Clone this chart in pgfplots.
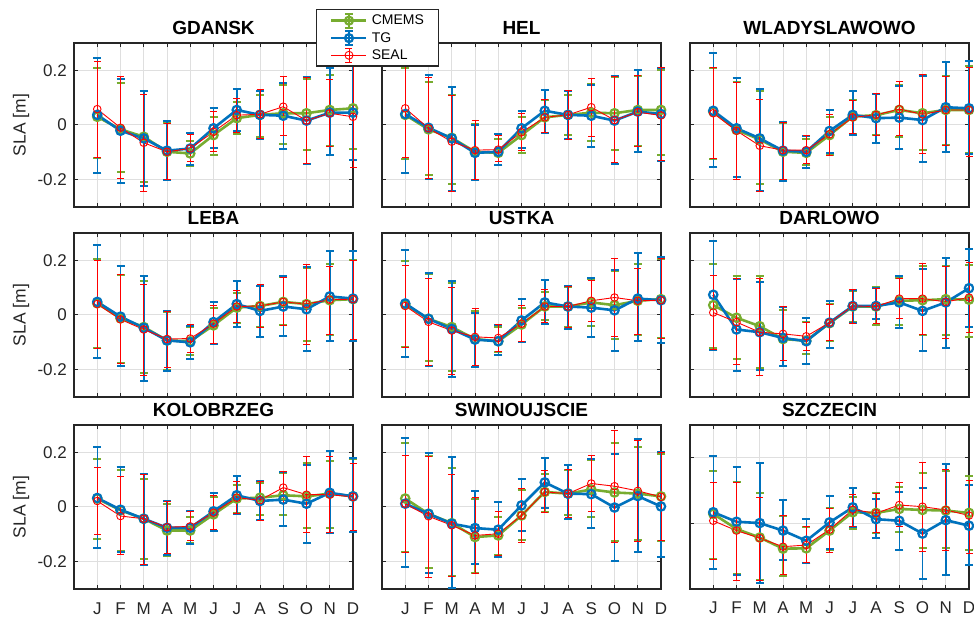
\documentclass[border=0pt]{standalone}
\usepackage{fontspec}
\setmainfont{Liberation Sans}
\usepackage{pgfplots}
\pgfplotsset{compat=1.18}
\usepackage{pgfplotstable}
\definecolor{cmg}{RGB}{119,172,48}
\definecolor{tgb}{RGB}{0,114,189}
\definecolor{axc}{RGB}{38,38,38}
\definecolor{grd}{RGB}{223,223,223}

% columns: month, CMEMS (value, low, high), TG (value, low, high), SEAL (value, low, high)
\pgfplotstableread{
m cy clo chi ty tlo thi sy slo shi
1 0.030 -0.120 0.210 0.037 -0.174 0.245 0.058 -0.117 0.233
2 -0.016 -0.172 0.153 -0.021 -0.212 0.169 -0.010 -0.194 0.178
3 -0.043 -0.209 0.123 -0.049 -0.225 0.126 -0.065 -0.243 0.110
4 -0.098 -0.200 0.006 -0.094 -0.200 0.016 -0.098 -0.200 0.004
5 -0.104 -0.150 -0.060 -0.086 -0.147 -0.030 -0.086 -0.133 -0.034
6 -0.037 -0.110 0.030 -0.012 -0.083 0.061 -0.025 -0.098 0.050
7 0.025 -0.033 0.083 0.055 -0.022 0.131 0.036 -0.027 0.097
8 0.037 -0.043 0.110 0.037 -0.053 0.125 0.039 -0.050 0.131
9 0.043 -0.070 0.147 0.034 -0.086 0.153 0.067 -0.040 0.178
10 0.043 -0.090 0.170 0.016 -0.141 0.174 0.016 -0.141 0.174
11 0.055 -0.076 0.184 0.045 -0.110 0.210 0.043 -0.080 0.168
12 0.061 -0.088 0.215 0.045 -0.129 0.230 0.030 -0.156 0.220
}\gdansk
\pgfplotstableread{
m cy clo chi ty tlo thi sy slo shi
1 0.037 -0.126 0.210 0.040 -0.174 0.250 0.061 -0.117 0.230
2 -0.016 -0.184 0.157 -0.010 -0.196 0.183 -0.012 -0.196 0.173
3 -0.047 -0.215 0.110 -0.049 -0.242 0.139 -0.061 -0.242 0.108
4 -0.098 -0.200 0.002 -0.102 -0.200 0.000 -0.092 -0.200 0.016
5 -0.102 -0.147 -0.050 -0.098 -0.147 -0.033 -0.090 -0.135 -0.040
6 -0.037 -0.104 0.028 -0.012 -0.083 0.053 -0.027 -0.092 0.043
7 0.028 -0.028 0.090 0.052 -0.031 0.129 0.028 -0.028 0.092
8 0.037 -0.037 0.110 0.037 -0.053 0.126 0.037 -0.053 0.126
9 0.045 -0.060 0.150 0.034 -0.080 0.147 0.065 -0.043 0.170
10 0.043 -0.092 0.175 0.016 -0.141 0.180 0.018 -0.138 0.178
11 0.055 -0.076 0.180 0.049 -0.100 0.200 0.047 -0.077 0.180
12 0.055 -0.110 0.200 0.040 -0.130 0.210 0.035 -0.130 0.210
}\hel
\pgfplotstableread{
m cy clo chi ty tlo thi sy slo shi
1 0.049 -0.126 0.209 0.052 -0.153 0.264 0.043 -0.123 0.209
2 -0.018 -0.190 0.156 -0.012 -0.190 0.173 -0.021 -0.199 0.156
3 -0.053 -0.217 0.126 -0.049 -0.240 0.131 -0.076 -0.243 0.092
4 -0.098 -0.200 0.008 -0.094 -0.206 0.012 -0.092 -0.199 0.011
5 -0.102 -0.147 -0.050 -0.098 -0.156 -0.040 -0.092 -0.139 -0.040
6 -0.037 -0.110 0.030 -0.022 -0.104 0.055 -0.034 -0.110 0.037
7 0.031 -0.033 0.090 0.037 -0.037 0.125 0.028 -0.031 0.090
8 0.036 -0.037 0.113 0.025 -0.067 0.114 0.037 -0.040 0.114
9 0.055 -0.043 0.147 0.027 -0.088 0.144 0.058 -0.040 0.160
10 0.043 -0.092 0.184 0.018 -0.135 0.178 0.039 -0.104 0.184
11 0.055 -0.074 0.180 0.065 -0.098 0.231 0.055 -0.074 0.178
12 0.055 -0.104 0.215 0.061 -0.107 0.233 0.055 -0.114 0.209
}\wlad
\pgfplotstableread{
m cy clo chi ty tlo thi sy slo shi
1 0.043 -0.121 0.204 0.048 -0.156 0.256 0.040 -0.121 0.200
2 -0.012 -0.177 0.147 -0.006 -0.186 0.181 -0.016 -0.179 0.147
3 -0.044 -0.211 0.126 -0.047 -0.242 0.144 -0.053 -0.222 0.110
4 -0.093 -0.201 0.010 -0.093 -0.204 0.015 -0.088 -0.193 0.012
5 -0.096 -0.146 -0.045 -0.100 -0.160 -0.041 -0.086 -0.137 -0.035
6 -0.038 -0.105 0.027 -0.026 -0.105 0.049 -0.032 -0.105 0.036
7 0.027 -0.031 0.080 0.040 -0.044 0.126 0.031 -0.028 0.089
8 0.033 -0.044 0.105 0.015 -0.079 0.107 0.033 -0.044 0.110
9 0.048 -0.038 0.138 0.031 -0.078 0.142 0.048 -0.038 0.137
10 0.040 -0.094 0.172 0.021 -0.133 0.175 0.040 -0.109 0.185
11 0.054 -0.072 0.188 0.068 -0.094 0.233 0.056 -0.072 0.178
12 0.058 -0.096 0.200 0.060 -0.096 0.233 0.058 -0.090 0.200
}\leba
\pgfplotstableread{
m cy clo chi ty tlo thi sy slo shi
1 0.038 -0.116 0.196 0.042 -0.152 0.237 0.033 -0.119 0.181
2 -0.014 -0.168 0.150 -0.014 -0.185 0.154 -0.025 -0.185 0.135
3 -0.044 -0.205 0.117 -0.051 -0.228 0.123 -0.057 -0.217 0.100
4 -0.088 -0.191 0.015 -0.090 -0.191 0.009 -0.080 -0.183 0.023
5 -0.096 -0.137 -0.045 -0.096 -0.148 -0.038 -0.084 -0.133 -0.035
6 -0.035 -0.100 0.027 -0.020 -0.100 0.058 -0.032 -0.096 0.036
7 0.031 -0.020 0.083 0.046 -0.032 0.128 0.031 -0.028 0.095
8 0.031 -0.044 0.101 0.031 -0.051 0.107 0.031 -0.044 0.105
9 0.046 -0.041 0.130 0.027 -0.080 0.135 0.052 -0.025 0.126
10 0.036 -0.088 0.160 0.017 -0.130 0.165 0.064 -0.078 0.206
11 0.052 -0.072 0.188 0.060 -0.096 0.225 0.052 -0.072 0.172
12 0.058 -0.084 0.205 0.054 -0.102 0.212 0.054 -0.084 0.206
}\ustka
\pgfplotstableread{
m cy clo chi ty tlo thi sy slo shi
1 0.036 -0.119 0.188 0.074 -0.127 0.272 0.009 -0.127 0.144
2 -0.010 -0.162 0.142 -0.053 -0.205 0.132 -0.026 -0.180 0.132
3 -0.041 -0.195 0.144 -0.063 -0.201 0.122 -0.063 -0.220 0.132
4 -0.088 -0.186 0.020 -0.084 -0.186 0.031 -0.069 -0.168 0.031
5 -0.094 -0.142 -0.026 -0.096 -0.180 -0.010 -0.078 -0.130 -0.026
6 -0.030 -0.094 0.040 -0.028 -0.121 0.052 -0.028 -0.094 0.040
7 0.031 -0.026 0.089 0.033 -0.031 0.093 0.033 -0.031 0.095
8 0.031 -0.038 0.101 0.033 -0.016 0.098 0.031 -0.031 0.098
9 0.052 -0.038 0.137 0.046 -0.047 0.141 0.060 -0.014 0.132
10 0.054 -0.075 0.180 0.015 -0.131 0.167 0.060 -0.072 0.188
11 0.058 -0.072 0.181 0.046 -0.121 0.209 0.048 -0.084 0.179
12 0.056 -0.080 0.184 0.098 -0.044 0.240 0.064 -0.065 0.194
}\darlowo
\pgfplotstableread{
m cy clo chi ty tlo thi sy slo shi
1 0.031 -0.117 0.174 0.033 -0.150 0.218 0.022 -0.100 0.144
2 -0.012 -0.162 0.137 -0.010 -0.166 0.147 -0.033 -0.175 0.113
3 -0.043 -0.190 0.104 -0.043 -0.211 0.120 -0.043 -0.209 0.120
4 -0.086 -0.180 0.012 -0.076 -0.174 0.022 -0.074 -0.169 0.022
5 -0.086 -0.133 -0.037 -0.076 -0.137 -0.016 -0.071 -0.123 -0.016
6 -0.027 -0.088 0.037 -0.016 -0.088 0.053 -0.021 -0.083 0.043
7 0.031 -0.022 0.082 0.043 -0.027 0.113 0.034 -0.025 0.092
8 0.034 -0.028 0.088 0.022 -0.049 0.094 0.025 -0.049 0.094
9 0.043 -0.031 0.123 0.027 -0.071 0.129 0.071 0.012 0.129
10 0.039 -0.076 0.160 0.012 -0.133 0.153 0.045 -0.094 0.184
11 0.049 -0.077 0.168 0.052 -0.094 0.205 0.045 -0.094 0.186
12 0.039 -0.092 0.175 0.039 -0.092 0.180 0.037 -0.086 0.160
}\kolo
\pgfplotstableread{
m cy clo chi ty tlo thi sy slo shi
1 0.031 -0.166 0.233 0.012 -0.221 0.252 0.012 -0.166 0.190
2 -0.025 -0.223 0.186 -0.025 -0.243 0.196 -0.034 -0.258 0.184
3 -0.059 -0.252 0.141 -0.061 -0.298 0.182 -0.067 -0.255 0.120
4 -0.110 -0.243 0.030 -0.077 -0.209 0.059 -0.104 -0.243 0.034
5 -0.104 -0.175 -0.037 -0.083 -0.184 0.018 -0.098 -0.178 -0.015
6 -0.031 -0.120 0.064 0.006 -0.088 0.104 -0.031 -0.131 0.067
7 0.055 -0.019 0.120 0.090 -0.002 0.180 0.055 -0.021 0.133
8 0.049 -0.031 0.135 0.049 -0.043 0.153 0.049 -0.039 0.137
9 0.064 -0.037 0.172 0.047 -0.076 0.174 0.086 -0.016 0.188
10 0.053 -0.123 0.233 -0.002 -0.196 0.194 0.076 -0.129 0.280
11 0.049 -0.120 0.221 0.040 -0.166 0.248 0.059 -0.126 0.245
12 0.039 -0.123 0.195 0.002 -0.184 0.200 0.037 -0.123 0.200
}\swin
\pgfplotstableread{
m cy clo chi ty tlo thi sy slo shi
1 0.029 -0.109 0.160 0.034 -0.140 0.206 0.008 -0.111 0.126
2 -0.017 -0.153 0.126 0.005 -0.158 0.172 -0.022 -0.173 0.126
3 -0.043 -0.173 0.092 0.001 -0.181 0.184 -0.045 -0.173 0.080
4 -0.077 -0.161 0.024 -0.022 -0.112 0.070 -0.071 -0.157 0.024
5 -0.076 -0.122 -0.010 -0.053 -0.122 0.013 -0.066 -0.120 -0.010
6 -0.022 -0.080 0.046 0.003 -0.077 0.083 -0.019 -0.089 0.046
7 0.034 -0.017 0.080 0.049 -0.010 0.107 0.042 -0.010 0.088
8 0.032 -0.028 0.092 0.013 -0.046 0.073 0.031 -0.028 0.090
9 0.044 -0.026 0.112 0.008 -0.081 0.095 0.056 -0.010 0.126
10 0.041 -0.074 0.153 -0.031 -0.171 0.107 0.051 -0.087 0.187
11 0.039 -0.074 0.160 0.010 -0.158 0.180 0.041 -0.084 0.164
12 0.032 -0.082 0.143 -0.007 -0.128 0.116 0.024 -0.092 0.131
}\szcz

\pgfplotsset{
 panel/.style={scale only axis, width=279pt, height=164pt, anchor=north west,
  xmin=0, xmax=12, ymin=-0.3, ymax=0.3,
  xtick={1,...,12}, ytick={-0.2,0,0.2}, xticklabels={}, yticklabels={},
  grid=major, major grid style={grd, line width=1pt},
  tick align=inside, major tick length=4pt,
  tick style={axc, line width=1pt},
  axis line style={axc, line width=1.5pt},
  clip=false,
  title style={font=\bfseries\fontsize{19}{19}\selectfont, at={(axis description cs:0.5,1)}, anchor=base, yshift=2.5pt, inner sep=0pt},
  tick label style={font=\fontsize{17}{17}\selectfont, color=axc},
  yticklabel style={anchor=east, inner sep=0pt, xshift=-7pt},
  xticklabel style={anchor=base, inner sep=0pt, yshift=-25pt},
 },
 lab/.style={yticklabels={-0.2,0,0.2}, ylabel={SLA [m]},
  ylabel style={font=\fontsize{17.5}{17.5}\selectfont, color=axc, at={(axis description cs:-0.19,0.5)}, anchor=center}},
 bot/.style={xticklabels={J,F,M,A,M,J,J,A,S,O,N,D}},
 cm/.style={cmg, line width=2.6pt, mark=o, mark size=4.2pt, mark options={line width=2.2pt},
  legend image code/.code={
   \path[draw=none,fill=none] (0pt,-7.5pt) rectangle (47pt,7.5pt);
   \draw[cmg, line width=2.6pt] (12pt,0pt) -- (47pt,0pt);
   \draw[cmg, line width=1.5pt] (29.5pt,-7pt) -- (29.5pt,7pt);
   \draw[cmg, line width=2pt] (25.5pt,7pt) -- (33.5pt,7pt) (25.5pt,-7pt) -- (33.5pt,-7pt);
   \draw[cmg, line width=2.2pt] (29.5pt,0pt) circle (4pt);},
  error bars/.cd, y dir=both, y explicit, error bar style={line width=1.5pt},
  error mark options={rotate=90, cmg, line width=2pt, mark size=4pt}},
 tg/.style={tgb, line width=2.6pt, mark=o, mark size=4.2pt, mark options={line width=2.2pt},
  legend image code/.code={
   \path[draw=none,fill=none] (0pt,-7.5pt) rectangle (47pt,7.5pt);
   \draw[tgb, line width=2.6pt] (12pt,0pt) -- (47pt,0pt);
   \draw[tgb, line width=1.5pt] (29.5pt,-7pt) -- (29.5pt,7pt);
   \draw[tgb, line width=2pt] (25.5pt,7pt) -- (33.5pt,7pt) (25.5pt,-7pt) -- (33.5pt,-7pt);
   \draw[tgb, line width=2.2pt] (29.5pt,0pt) circle (4pt);},
  error bars/.cd, y dir=both, y explicit, error bar style={line width=1.5pt},
  error mark options={rotate=90, tgb, line width=2pt, mark size=4pt}},
 se/.style={red, line width=0.9pt, mark=o, mark size=3.8pt, mark options={line width=0.9pt},
  legend image code/.code={
   \path[draw=none,fill=none] (0pt,-7.5pt) rectangle (47pt,7.5pt);
   \draw[red, line width=0.9pt] (12pt,0pt) -- (47pt,0pt);
   \draw[red, line width=0.9pt] (29.5pt,-7pt) -- (29.5pt,7pt);
   \draw[red, line width=0.9pt] (26pt,7pt) -- (33pt,7pt) (26pt,-7pt) -- (33pt,-7pt);
   \draw[red, line width=0.9pt] (29.5pt,0pt) circle (4pt);},
  error bars/.cd, y dir=both, y explicit, error bar style={line width=0.9pt},
  error mark options={rotate=90, red, line width=0.9pt, mark size=3.5pt}},
}

\newcommand\panel[4]{%
 \begin{axis}[panel, at={#1}, title={#2}, #4]
  \addplot[cm] table[x=m, y=cy, y error plus expr=\thisrow{chi}-\thisrow{cy}, y error minus expr=\thisrow{cy}-\thisrow{clo}] {#3};
  \addplot[tg] table[x=m, y=ty, y error plus expr=\thisrow{thi}-\thisrow{ty}, y error minus expr=\thisrow{ty}-\thisrow{tlo}] {#3};
  \addplot[se] table[x=m, y=sy, y error plus expr=\thisrow{shi}-\thisrow{sy}, y error minus expr=\thisrow{sy}-\thisrow{slo}] {#3};
 \end{axis}}

\begin{document}
\begin{tikzpicture}
\useasboundingbox (0,0) rectangle (974pt,616pt);
\panel{(382pt,573pt)}{HEL}{\hel}{}
\panel{(74pt,573pt)}{GDANSK}{\gdansk}{lab,
  legend entries={\makebox[62pt][l]{CMEMS},\makebox[62pt][l]{TG},\makebox[62pt][l]{SEAL}},
  legend cell align=left,
  legend style={at={(axis description cs:0.867,1.207)}, anchor=north west, draw=axc, line width=1.2pt, fill=white,
   font=\fontsize{14}{16}\selectfont, inner xsep=3pt, inner ysep=3pt, row sep=1.5pt, column sep=2pt}}
\panel{(690pt,573pt)}{WLADYSLAWOWO}{\wlad}{}
\panel{(74pt,383pt)}{LEBA}{\leba}{lab}
\panel{(382pt,383pt)}{USTKA}{\ustka}{}
\panel{(690pt,383pt)}{DARLOWO}{\darlowo}{}
\panel{(74pt,191pt)}{KOLOBRZEG}{\kolo}{lab,bot}
\panel{(382pt,191pt)}{SWINOUJSCIE}{\swin}{bot}
\panel{(690pt,191pt)}{SZCZECIN}{\szcz}{bot, ymin=-0.2, ymax=0.3}
\end{tikzpicture}
\end{document}
